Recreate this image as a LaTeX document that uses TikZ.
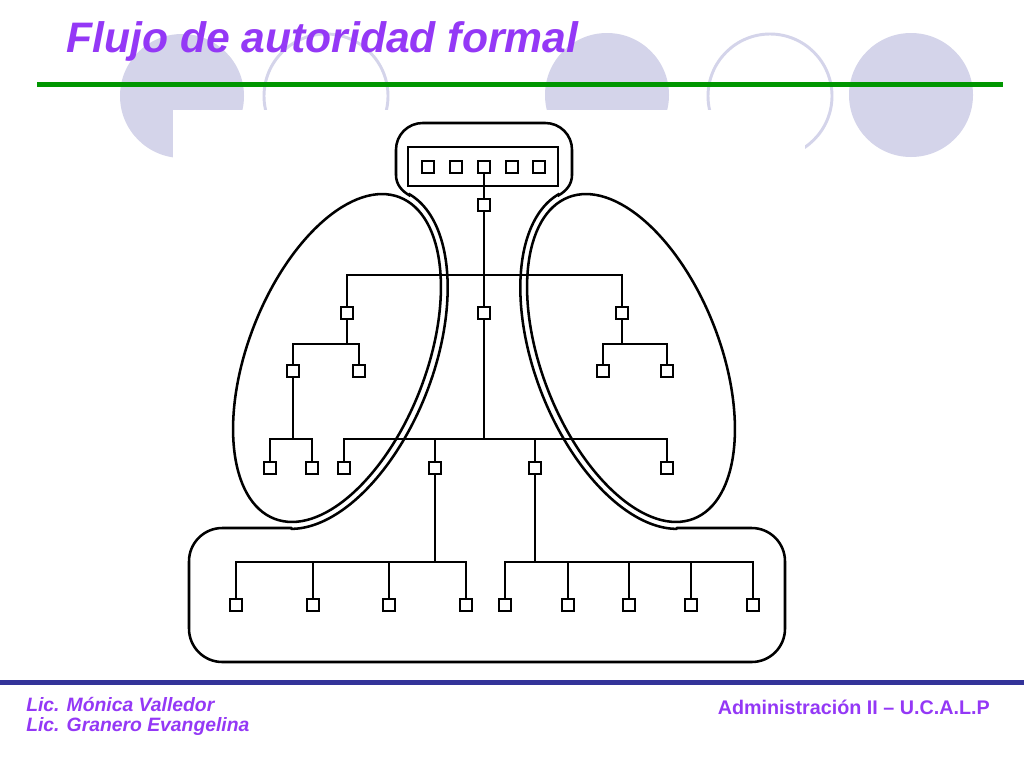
\documentclass[tikz,border=0pt]{standalone}
\usepackage{fontspec}
\setmainfont{Liberation Sans}

\definecolor{lila}{RGB}{212,212,234}
\definecolor{morado}{RGB}{148,56,246}
\definecolor{verde}{RGB}{0,150,0}
\definecolor{azul}{RGB}{51,51,153}

\tikzset{
    cargo/.style={draw, rectangle, minimum size=9.5pt, inner sep=0pt, line width=1.5pt},
    linea/.style={line width=1.7pt},
    borde/.style={line width=1.9pt, line cap=round}
}

\begin{document}
\begin{tikzpicture}[x=0.75pt, y=-0.75pt]
    \useasboundingbox (0, 0) rectangle (1024, 768);
    \fill[white] (0, 0) rectangle (1024, 768);

    \fill[lila] (182, 96) circle [radius=62];
    \draw[lila, line width=2.2pt] (326, 96) circle [radius=62];
    \fill[lila] (607, 95) circle [radius=62];
    \draw[lila, line width=2.2pt] (770, 96) circle [radius=62];
    \fill[lila] (911, 95) circle [radius=62];
    \fill[white] (173, 110) rectangle (805, 668);

    \draw[verde, line width=3.75pt] (37, 84.5) -- (1003, 84.5);
    \draw[azul, line width=3.75pt] (0, 682.5) -- (1024, 682.5);

    \node[anchor=base west, inner sep=0pt, text=morado, font=\fontsize{32}{38}\selectfont\bfseries\itshape] (titulo) at (66, 52) {Flujo de autoridad formal};
    \node[anchor=base west, inner sep=0pt, text=morado, font=\fontsize{14.5}{17}\selectfont\bfseries\itshape] (autora1) at (26, 711) {Lic. Mónica Valledor};
    \node[anchor=base west, inner sep=0pt, text=morado, font=\fontsize{14.5}{17}\selectfont\bfseries\itshape] (autora2) at (26, 731) {Lic. Granero Evangelina};
    \node[anchor=base east, inner sep=0pt, text=morado, font=\fontsize{14.8}{17}\selectfont\bfseries] (materia) at (990, 714) {Administración II – U.C.A.L.P};

    \draw[borde, rotate around={68.7:(337, 358)}] (337, 358) ellipse [x radius=172.5, y radius=89];
    \draw[borde, rotate around={-68.7:(631, 358)}] (631, 358) ellipse [x radius=172.5, y radius=89];

    \draw[borde, rounded corners=20] (396, 175) -- (396, 123) -- (572, 123) -- (572, 175);
    \draw[borde] (396, 175) .. controls (396, 185) and (402.4, 191.2) .. (409.3, 195.3)
        -- plot[domain=5:168.3, samples=90, variable=\t] ({337 + 179.5*cos(\t)*0.3633 + 96*sin(\t)*0.9317}, {358 - 179.5*cos(\t)*0.9317 + 96*sin(\t)*0.3633});
    \draw[borde] (572, 175) .. controls (572, 185) and (565.6, 191.2) .. (558.7, 195.3)
        -- plot[domain=5:168.3, samples=90, variable=\t] ({968 - (337 + 179.5*cos(\t)*0.3633 + 96*sin(\t)*0.9317)}, {358 - 179.5*cos(\t)*0.9317 + 96*sin(\t)*0.3633});
    \draw[borde, rounded corners=25] (291.5, 528) -- (189, 528) -- (189, 662) -- (785, 662) -- (785, 528) -- (676.5, 528);

    \draw[linea] (408, 147) rectangle (558, 186);

    \node[cargo] (t1) at (428, 167) {};
    \node[cargo] (t2) at (456, 167) {};
    \node[cargo] (t3) at (484, 167) {};
    \node[cargo] (t4) at (512, 167) {};
    \node[cargo] (t5) at (539, 167) {};

    \node[cargo] (n0) at (484, 205) {};
    \node[cargo] (l1) at (347, 313) {};
    \node[cargo] (c1) at (484, 313) {};
    \node[cargo] (r1) at (622, 313) {};

    \node[cargo] (ll) at (293, 371) {};
    \node[cargo] (lr) at (359, 371) {};
    \node[cargo] (rl) at (603, 371) {};
    \node[cargo] (rr) at (667, 371) {};

    \node[cargo] (lll) at (270, 468) {};
    \node[cargo] (llr) at (312, 468) {};
    \node[cargo] (cA) at (344, 468) {};
    \node[cargo] (cB) at (435, 468) {};
    \node[cargo] (cC) at (535, 468) {};
    \node[cargo] (cD) at (667, 468) {};

    \node[cargo] (p1) at (236, 605) {};
    \node[cargo] (p2) at (313, 605) {};
    \node[cargo] (p3) at (389, 605) {};
    \node[cargo] (p4) at (466, 605) {};
    \node[cargo] (q1) at (505, 605) {};
    \node[cargo] (q2) at (568, 605) {};
    \node[cargo] (q3) at (629, 605) {};
    \node[cargo] (q4) at (691, 605) {};
    \node[cargo] (q5) at (753, 605) {};

    \coordinate (b1) at (484, 275);
    \coordinate (b2) at (484, 439);
    \coordinate (b3) at (347, 344);
    \coordinate (b4) at (622, 344);
    \coordinate (b5) at (293, 439);
    \coordinate (b6) at (435, 562);
    \coordinate (b7) at (535, 562);

    \draw[linea] (t3) -- (n0);
    \draw[linea] (n0) -- (c1);
    \draw[linea] (l1) |- (b1) -| (r1);

    \draw[linea] (c1) -- (b2);
    \draw[linea] (cA) |- (b2) -| (cD);
    \draw[linea] (cB) |- (b2);
    \draw[linea] (cC) |- (b2);

    \draw[linea] (l1) -- (b3);
    \draw[linea] (ll) |- (b3) -| (lr);
    \draw[linea] (r1) -- (b4);
    \draw[linea] (rl) |- (b4) -| (rr);

    \draw[linea] (ll) -- (b5);
    \draw[linea] (lll) |- (b5) -| (llr);

    \draw[linea] (cB) -- (b6);
    \draw[linea] (p1) |- (b6) -| (p4);
    \draw[linea] (p2) |- (b6);
    \draw[linea] (p3) |- (b6);

    \draw[linea] (cC) -- (b7);
    \draw[linea] (q1) |- (b7) -| (q5);
    \draw[linea] (q2) |- (b7);
    \draw[linea] (q3) |- (b7);
    \draw[linea] (q4) |- (b7);
\end{tikzpicture}
\end{document}
